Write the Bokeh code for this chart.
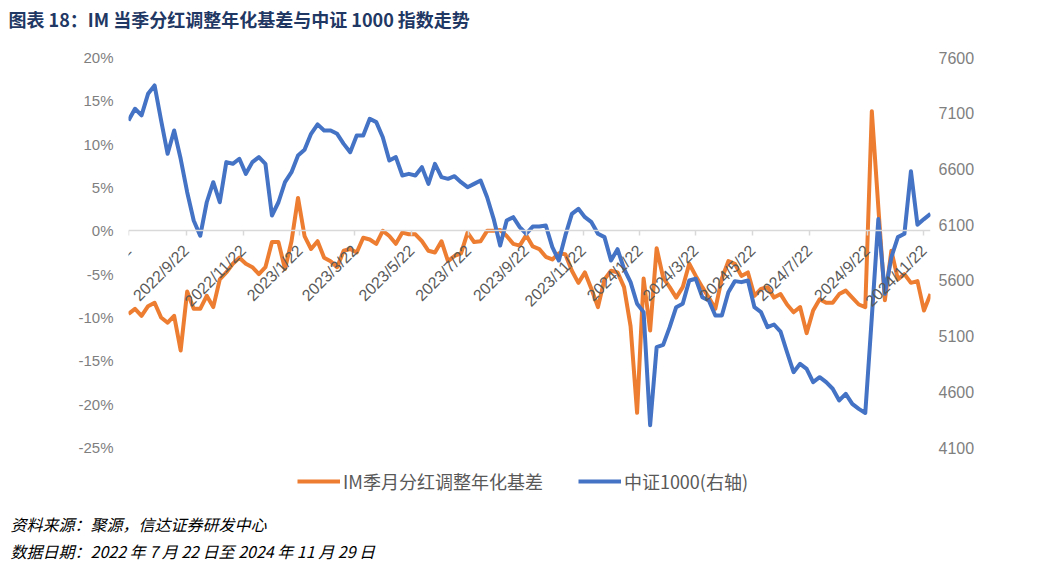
import math
import pandas as pd
from bokeh.plotting import figure
from bokeh.models import (Range1d, LinearAxis, FixedTicker, PrintfTickFormatter,
                          Legend, LegendItem, Title, Label)
from bokeh.embed import file_html
from bokeh.resources import INLINE

# ---------------- data (weekly, Fridays from 2022-07-22) ----------------
start_date = "2022-07-22"
end_date = "2024-11-29"

basis_pct = [
    -9.6, -9.0, -9.8, -8.7, -8.3, -10.0, -10.6, -9.8, -13.8, -7.0,
    -9.0, -9.0, -7.5, -8.8, -5.6, -4.8, -3.8, -3.1, -3.8, -4.2,
    -5.0, -4.2, -1.3, -1.3, -4.4, -1.2, 3.8, -0.6, -2.1, -1.2,
    -3.1, -3.5, -4.2, -2.3, -2.1, -2.5, -0.8, -1.0, -1.5, 0.0,
    -0.6, -1.5, -0.2, -0.4, -0.4, -1.2, -2.3, -2.5, -1.2, -3.5,
    -2.9, -2.6, -0.2, -1.3, -1.2, 0.0, 0.0, 0.1, -0.6, -1.5,
    -1.7, -0.5, -1.8, -2.1, -3.0, -3.3, -2.6, -2.7, -4.6, -6.0,
    -4.8, -6.7, -8.8, -5.6, -4.6, -4.8, -6.5, -11.0, -21.0, -5.5,
    -11.5, -2.0, -5.4, -6.5, -7.7, -6.5, -3.8, -5.2, -6.5, -7.7,
    -9.0, -5.5, -3.5, -3.8, -5.2, -4.8, -7.5, -6.7, -6.5, -7.7,
    -7.3, -8.5, -9.4, -8.8, -11.8, -9.2, -7.9, -8.3, -8.3, -7.3,
    -6.9, -7.7, -8.5, -8.8, 13.8, 2.7, -8.0, -2.3, -5.6, -5.0,
    -6.0, -5.8, -9.2, -7.3,
]

csi1000 = [
    7035, 7140, 7080, 7274, 7349, 7035, 6736, 6945, 6691, 6391,
    6137, 6000, 6301, 6481, 6301, 6661, 6646, 6691, 6556, 6661,
    6706, 6646, 6182, 6301, 6481, 6571, 6720, 6772, 6915, 7000,
    6945, 6945, 6915, 6825, 6750, 6900, 6900, 7050, 7020, 6885,
    6676, 6706, 6541, 6556, 6541, 6616, 6466, 6646, 6526, 6511,
    6535, 6481, 6436, 6466, 6496, 6346, 6152, 5913, 6137, 6167,
    6077, 6018, 6083, 6083, 6092, 5898, 5778, 6003, 6197, 6242,
    6167, 6122, 6018, 5988, 5778, 5880, 5704, 5584, 5390, 5315,
    4300, 5000, 5021, 5180, 5359, 5390, 5599, 5614, 5449, 5419,
    5284, 5284, 5494, 5593, 5584, 5599, 5359, 5315, 5180, 5204,
    5140, 4955, 4776, 4851, 4806, 4686, 4731, 4686, 4627, 4522,
    4582, 4492, 4447, 4410, 5269, 6150, 5479, 5808, 5988, 6018,
    6580, 6100, 6150, 6197,
]

x_tick_labels = ["2022/7/22", "2022/9/22", "2022/11/22", "2023/1/22", "2023/3/22",
                 "2023/5/22", "2023/7/22", "2023/9/22", "2023/11/22", "2024/1/22",
                 "2024/3/22", "2024/5/22", "2024/7/22", "2024/9/22", "2024/11/22"]
left_ticks = [-25, -20, -15, -10, -5, 0, 5, 10, 15, 20]
right_ticks = [4100, 4600, 5100, 5600, 6100, 6600, 7100, 7600]

series_names = ["IM季月分红调整年化基差", "中证1000(右轴)"]
title_text = "图表 18：IM 当季分红调整年化基差与中证 1000 指数走势"
source_text = "资料来源：聚源，信达证券研发中心"
date_text = "数据日期：2022 年 7 月 22 日至 2024 年 11 月 29 日"

# ---------------- layout constants (pixels) ----------------
FRAME_W = 802
DATA_H = 390           # pixels spanned by the tick range of both y axes
TOP_PAD = 19           # frame space above the top tick
BOT_PAD = 61           # frame space below the bottom tick (legend zone)
FRAME_H = DATA_H + TOP_PAD + BOT_PAD
ORANGE = "#ED7D31"
BLUE = "#4472C4"
CJK = "Noto Sans CJK SC"


def to_ms(ts):
    return pd.Timestamp(ts).value / 1e6


dates = pd.date_range(start_date, periods=len(basis_pct), freq="7D")
x_ms = [to_ms(d) for d in dates]
tick_ms = [to_ms(pd.to_datetime(s, format="%Y/%m/%d")) for s in x_tick_labels]


def padded(lo, hi):
    per_px = (hi - lo) / DATA_H
    return lo - BOT_PAD * per_px, hi + TOP_PAD * per_px


l_lo, l_hi = padded(min(left_ticks), max(left_ticks))
r_lo, r_hi = padded(min(right_ticks), max(right_ticks))

p = figure(frame_width=FRAME_W, frame_height=FRAME_H,
           output_backend="svg", toolbar_location=None,
           x_range=Range1d(to_ms(start_date), to_ms(end_date)),
           y_range=Range1d(l_lo, l_hi),
           min_border_left=128, min_border_right=111,
           min_border_top=0, min_border_bottom=0)
p.outline_line_color = None
p.xgrid.visible = False
p.ygrid.visible = False

# title
p.title.text = title_text
p.title.align = "left"
p.title.vertical_align = "top"
p.title.offset = -120
p.title.text_font = CJK
p.title.text_font_size = "18px"
p.title.text_font_style = "bold"
p.title.text_color = "#1F3864"
p.title.standoff = 10

# left axis
yl = p.yaxis[0]
yl.ticker = FixedTicker(ticks=left_ticks)
yl.formatter = PrintfTickFormatter(format="%d%%")
yl.axis_line_color = None
yl.major_tick_line_color = None
yl.minor_tick_line_color = None
yl.major_label_text_color = "#7F7F7F"
yl.major_label_text_font = "Liberation Sans"
yl.major_label_text_font_size = "15px"
yl.major_label_standoff = 9

# right axis
p.extra_y_ranges = {"right": Range1d(r_lo, r_hi)}
yr = LinearAxis(y_range_name="right", ticker=FixedTicker(ticks=right_ticks))
yr.axis_line_color = None
yr.major_tick_line_color = None
yr.minor_tick_line_color = None
yr.major_label_text_color = "#7F7F7F"
yr.major_label_text_font = "Liberation Sans"
yr.major_label_text_font_size = "16px"
yr.major_label_standoff = 2
p.add_layout(yr, "right")

# x axis drawn on the 0% line
X_LABEL_FONT = "16px"
X_STANDOFF = 12
X_TICK_OUT = 5
xa = p.xaxis[0]
xa.fixed_location = 0
xa.ticker = FixedTicker(ticks=tick_ms)
overrides = {t: s for t, s in zip(tick_ms, x_tick_labels)}
overrides[tick_ms[0]] = ""   # first label drawn below as an unclipped Label
xa.major_label_overrides = overrides
xa.major_label_orientation = math.pi / 4
xa.axis_line_color = "#D9D9D9"
xa.axis_line_width = 1.5
xa.major_tick_line_color = "#D9D9D9"
xa.major_tick_line_width = 1.5
xa.major_tick_out = X_TICK_OUT
xa.major_tick_in = 0
xa.minor_tick_line_color = None
xa.major_label_text_color = "#595959"
xa.major_label_text_font = "Liberation Sans"
xa.major_label_text_font_size = X_LABEL_FONT
xa.major_label_standoff = X_STANDOFF

p.add_layout(Label(x=tick_ms[0], y=0, text=x_tick_labels[0], angle=math.pi / 4,
                   text_align="right", text_baseline="middle",
                   y_offset=-(X_STANDOFF + X_TICK_OUT),
                   text_font="Liberation Sans", text_font_size=X_LABEL_FONT,
                   text_color="#595959"))

# lines
r1 = p.line(x_ms, basis_pct, color=ORANGE, line_width=4, line_join="round")
r2 = p.line(x_ms, csi1000, y_range_name="right", color=BLUE, line_width=4,
            line_join="round")

legend = Legend(items=[LegendItem(label=series_names[0], renderers=[r1]),
                       LegendItem(label=series_names[1], renderers=[r2])],
                orientation="horizontal", location=(169, 14),
                border_line_color=None, background_fill_alpha=0,
                label_text_font=CJK, label_text_font_size="18px",
                label_text_color="#595959", glyph_width=43, glyph_height=20,
                label_standoff=3, spacing=35, padding=0, margin=0)
p.add_layout(legend)

for txt, so in [(source_text, 2), (date_text, 0)]:
    t = Title(text=txt, align="left", offset=-118, standoff=so,
              text_font=CJK, text_font_size="16px", text_font_style="italic",
              text_color="#000000")
    p.add_layout(t, "below")

open("out.html", "w").write(file_html(p, INLINE))
